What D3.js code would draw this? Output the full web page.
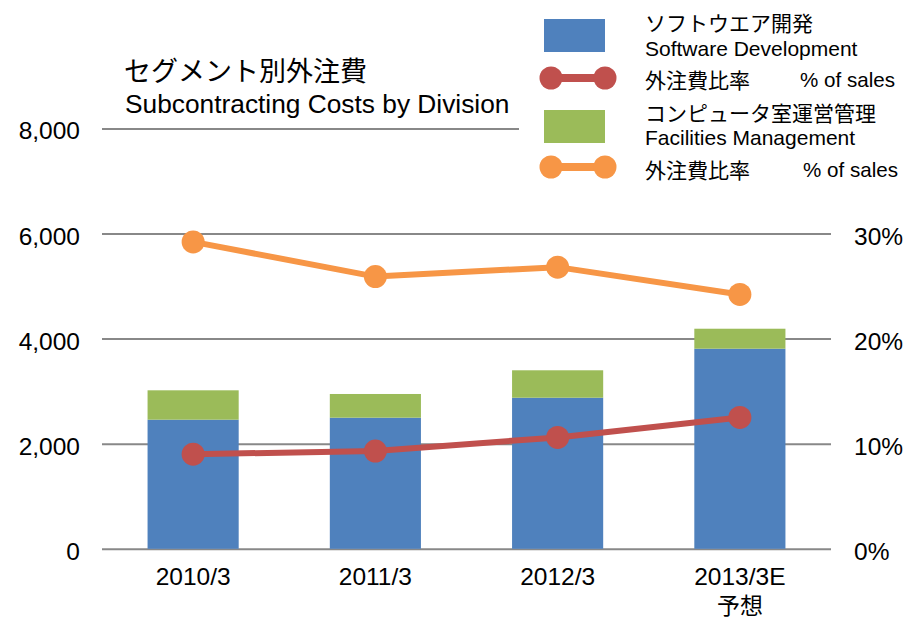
<!DOCTYPE html>
<html><head><meta charset="utf-8">
<script src="https://cdn.jsdelivr.net/npm/d3@7"></script>
<style>
html,body{margin:0;padding:0;background:#fff;}
text{font-family:"Liberation Sans","Noto Sans CJK JP",Arial,sans-serif;fill:#000;}
</style></head>
<body>
<svg id="c" width="907" height="619"></svg>
<script>
const categories = ["2010/3","2011/3","2012/3","2013/3E"];
const categorySub = ["","","","予想"];
const software = [2457, 2495, 2875, 3808];
const facilities = [559, 451, 522, 380];
const softwarePct = [9.0, 9.3, 10.6, 12.5];
const facilitiesPct = [29.2, 25.9, 26.8, 24.2];
const leftTicks = [0, 2000, 4000, 6000, 8000];
const rightTicks = [0, 10, 20, 30];

const svg = d3.select("#c");
const x0 = 102, x1 = 831, yBase = 548.8, yTop = 128.4;
const x = d3.scaleBand().domain(categories).range([x0, x1]).paddingInner(0.5).paddingOuter(0.25);
const y = d3.scaleLinear().domain([0, 8000]).range([yBase, yTop]);
const yr = d3.scaleLinear().domain([0, 40]).range([yBase, yTop]);

// gridlines
const grid = svg.append("g").attr("transform", `translate(${x0},0)`)
  .call(d3.axisRight(y).tickValues(leftTicks).tickSize(x1 - x0).tickFormat(""));
grid.select(".domain").remove();
grid.selectAll("line").attr("stroke", "#888").attr("stroke-width", 2);

// left labels
svg.append("g").selectAll("text").data(leftTicks).join("text")
  .attr("x", 80).attr("y", d => y(d) + 11)
  .attr("text-anchor", "end").attr("font-size", 24.5)
  .text(d => d3.format(",")(d));
// right labels
svg.append("g").selectAll("text").data(rightTicks).join("text")
  .attr("x", 854).attr("y", d => yr(d) + 11)
  .attr("text-anchor", "start").attr("font-size", 24.5)
  .text(d => d + "%");

// bars
const bw = x.bandwidth();
svg.append("g").selectAll("rect").data(categories).join("rect")
  .attr("x", d => x(d)).attr("width", bw)
  .attr("y", (d,i) => y(software[i])).attr("height", (d,i) => yBase - y(software[i]))
  .attr("fill", "#4F81BD");
svg.append("g").selectAll("rect").data(categories).join("rect")
  .attr("x", d => x(d)).attr("width", bw)
  .attr("y", (d,i) => y(software[i] + facilities[i])).attr("height", (d,i) => y(software[i]) - y(software[i] + facilities[i]))
  .attr("fill", "#9BBB59");

// x labels
svg.append("g").selectAll("text").data(categories).join("text")
  .attr("x", d => x(d) + bw/2).attr("y", 585).attr("text-anchor", "middle").attr("font-size", 24.5)
  .text(d => d);
svg.append("g").selectAll("text").data(categories).join("text")
  .attr("x", d => x(d) + bw/2).attr("y", 614).attr("text-anchor", "middle").attr("font-size", 23)
  .text((d,i) => categorySub[i]);

// lines
function drawLine(vals, color) {
  const line = d3.line().x((d,i) => x(categories[i]) + bw/2).y(d => yr(d));
  svg.append("path").datum(vals).attr("d", line).attr("fill", "none")
    .attr("stroke", color).attr("stroke-width", 6).attr("stroke-linejoin", "round");
  svg.append("g").selectAll("circle").data(vals).join("circle")
    .attr("cx", (d,i) => x(categories[i]) + bw/2).attr("cy", d => yr(d)).attr("r", 11.5)
    .attr("fill", color);
}
drawLine(softwarePct, "#C0504D");
drawLine(facilitiesPct, "#F79646");

// legend background
svg.append("rect").attr("x", 519).attr("y", 0).attr("width", 388).attr("height", 190).attr("fill", "#fff");

// title
svg.append("text").attr("x", 124).attr("y", 81).attr("font-size", 27).text("セグメント別外注費");
svg.append("text").attr("x", 125).attr("y", 113).attr("font-size", 26.3).text("Subcontracting Costs by Division");

// legend
const lg = svg.append("g");
lg.append("rect").attr("x", 544).attr("y", 19).attr("width", 61).attr("height", 33).attr("fill", "#4F81BD");
lg.append("rect").attr("x", 544).attr("y", 110).attr("width", 61).attr("height", 33).attr("fill", "#9BBB59");
function legLine(yy, color) {
  lg.append("line").attr("x1", 551).attr("x2", 605).attr("y1", yy).attr("y2", yy).attr("stroke", color).attr("stroke-width", 8);
  lg.append("circle").attr("cx", 551).attr("cy", yy).attr("r", 11.5).attr("fill", color);
  lg.append("circle").attr("cx", 605).attr("cy", yy).attr("r", 11.5).attr("fill", color);
}
legLine(78, "#C0504D");
legLine(167, "#F79646");
const fs = 21;
lg.append("text").attr("x", 645).attr("y", 31).attr("font-size", fs).text("ソフトウエア開発");
lg.append("text").attr("x", 645).attr("y", 56).attr("font-size", fs).text("Software Development");
lg.append("text").attr("x", 645).attr("y", 88).attr("font-size", fs).text("外注費比率");
lg.append("text").attr("x", 800).attr("y", 87).attr("font-size", 20.6).text("% of sales");
lg.append("text").attr("x", 645).attr("y", 121).attr("font-size", fs).text("コンピュータ室運営管理");
lg.append("text").attr("x", 645).attr("y", 145).attr("font-size", fs).text("Facilities Management");
lg.append("text").attr("x", 645).attr("y", 178).attr("font-size", fs).text("外注費比率");
lg.append("text").attr("x", 803).attr("y", 177).attr("font-size", 20.6).text("% of sales");
</script>
</body></html>
